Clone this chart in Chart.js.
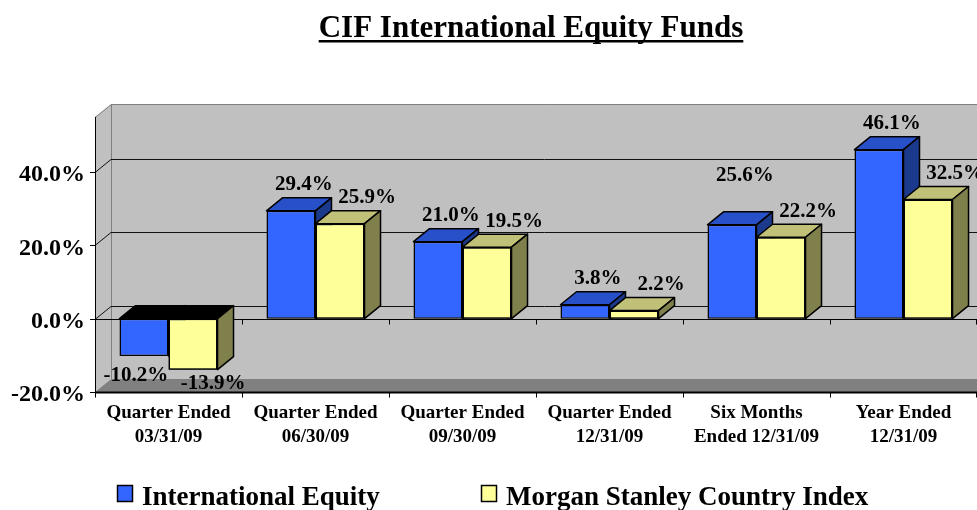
<!DOCTYPE html>
<html>
<head>
<meta charset="utf-8">
<script src="https://cdn.jsdelivr.net/npm/chart.js@4"></script>
<style>
  html, body { margin: 0; padding: 0; background: #fff; }
  canvas { display: block; }
</style>
</head>
<body>
<canvas id="c" width="977" height="510"></canvas>
<script>
// ---- data ----
const chartTitle = "CIF International Equity Funds";
const categories = [
  ["Quarter Ended", "03/31/09"],
  ["Quarter Ended", "06/30/09"],
  ["Quarter Ended", "09/30/09"],
  ["Quarter Ended", "12/31/09"],
  ["Six Months", "Ended 12/31/09"],
  ["Year Ended", "12/31/09"]
];
const seriesNames = ["International Equity", "Morgan Stanley Country Index"];
const internationalEquity = [-10.2, 29.4, 21.0, 3.8, 25.6, 46.1];
const msciCountryIndex = [-13.9, 25.9, 19.5, 2.2, 22.2, 32.5];
const yTickValues = [-20, 0, 20, 40];

// ---- styling ----
const SERIF = '"Liberation Serif", "Times New Roman", serif';
const DX = 16, DY = 13;
const faceColors = [
  { front: '#3366FF', top: '#2850C8', side: '#1B3A8C' },
  { front: '#FFFF99', top: '#C0C078', side: '#80804C' }
];
const fmt = v => v.toFixed(1) + '%';

function drawExtrusion(chart, ctx, di, i) {
  const el = chart.getDatasetMeta(di).data[i];
  const col = faceColors[di];
  const p = el.getProps(['x', 'y', 'base', 'width'], true);
  const l = p.x - p.width / 2, r = p.x + p.width / 2;
  const t = Math.min(p.y, p.base), b = Math.max(p.y, p.base);
  const v = chart.data.datasets[di].data[i];
  ctx.strokeStyle = '#000';
  ctx.lineWidth = 1.5;
  ctx.lineJoin = 'round';
  ctx.fillStyle = v < 0 ? '#000' : col.top;
  ctx.beginPath();
  ctx.moveTo(l, t); ctx.lineTo(l + DX, t - DY);
  ctx.lineTo(r + DX, t - DY); ctx.lineTo(r, t);
  ctx.closePath(); ctx.fill(); ctx.stroke();
  ctx.fillStyle = col.side;
  ctx.beginPath();
  ctx.moveTo(r, t); ctx.lineTo(r + DX, t - DY);
  ctx.lineTo(r + DX, b - DY); ctx.lineTo(r, b);
  ctx.closePath(); ctx.fill(); ctx.stroke();
}

const threeD = {
  id: 'threeD',
  beforeDatasetsDraw(chart) {
    const ctx = chart.ctx;
    const { left, right, top, bottom } = chart.chartArea;
    const ys = chart.scales.y, xs = chart.scales.x;
    ctx.save();
    // back wall
    ctx.fillStyle = '#C0C0C0';
    ctx.fillRect(left + DX, top - DY, right - left + DX, bottom - top);
    // side wall
    ctx.beginPath();
    ctx.moveTo(left, top); ctx.lineTo(left + DX, top - DY);
    ctx.lineTo(left + DX, bottom - DY); ctx.lineTo(left, bottom);
    ctx.closePath(); ctx.fill();
    // floor
    ctx.fillStyle = '#808080';
    ctx.beginPath();
    ctx.moveTo(left, bottom); ctx.lineTo(left + DX, bottom - DY);
    ctx.lineTo(right + DX + 20, bottom - DY); ctx.lineTo(right + 20, bottom);
    ctx.closePath(); ctx.fill();
    // wall edges
    ctx.strokeStyle = '#808080'; ctx.lineWidth = 1;
    ctx.beginPath();
    ctx.moveTo(left, top + 0.5); ctx.lineTo(left + DX + 0.5, top - DY + 0.5);
    ctx.lineTo(right + DX + 20, top - DY + 0.5);
    ctx.moveTo(left + DX + 0.5, top - DY); ctx.lineTo(left + DX + 0.5, bottom - DY);
    ctx.stroke();
    // gridlines
    ctx.strokeStyle = '#111';
    yTickValues.forEach(v => {
      if (v === ys.min) return;
      const yp = Math.round(ys.getPixelForValue(v)) + 0.5;
      ctx.beginPath();
      ctx.moveTo(left, yp); ctx.lineTo(left + DX, yp - DY);
      ctx.lineTo(right + DX + 20, yp - DY);
      ctx.stroke();
    });
    // front axes
    ctx.strokeStyle = '#000';
    const y0 = Math.round(ys.getPixelForValue(0)) + 0.5;
    const yb = Math.round(bottom) + 0.5;
    ctx.beginPath();
    ctx.moveTo(left + 0.5, top); ctx.lineTo(left + 0.5, bottom);
    ctx.moveTo(left, y0); ctx.lineTo(right, y0);
    ctx.stroke();
    ctx.lineWidth = 2;
    ctx.beginPath();
    ctx.moveTo(left, yb); ctx.lineTo(right, yb);
    ctx.stroke();
    ctx.lineWidth = 1;
    // y tick marks
    ctx.beginPath();
    yTickValues.forEach(v => {
      const yp = Math.round(ys.getPixelForValue(v)) + 0.5;
      ctx.moveTo(left - 5, yp); ctx.lineTo(left, yp);
    });
    // x tick marks at category boundaries
    const n = categories.length;
    for (let i = 0; i <= n; i++) {
      let bx;
      if (i === 0) bx = left;
      else if (i === n) bx = right - 1;
      else bx = (xs.getPixelForValue(i - 1) + xs.getPixelForValue(i)) / 2;
      bx = Math.round(bx) + 0.5;
      ctx.moveTo(bx, y0); ctx.lineTo(bx, y0 + 5);
      ctx.moveTo(bx, yb); ctx.lineTo(bx, yb + 5);
    }
    ctx.stroke();
    ctx.restore();
  },
  afterDatasetsDraw(chart) {
    // 3-D faces: blue depth, then the library's yellow bar on top, then yellow depth
    const ctx = chart.ctx;
    ctx.save();
    const yellowMeta = chart.getDatasetMeta(1);
    categories.forEach((c, i) => {
      drawExtrusion(chart, ctx, 0, i);
      yellowMeta.data[i].draw(ctx);
      drawExtrusion(chart, ctx, 1, i);
    });
    ctx.restore();
  },
  afterDraw(chart) {
    const ctx = chart.ctx;
    ctx.save();
    // data labels
    ctx.fillStyle = '#000';
    ctx.font = 'bold 21px ' + SERIF;
    ctx.textAlign = 'center';
    ctx.textBaseline = 'middle';
    const posOff = [5, 19], negOff = [-8, 20];
    chart.data.datasets.forEach((ds, di) => {
      const meta = chart.getDatasetMeta(di);
      meta.data.forEach((el, i) => {
        const p = el.getProps(['x', 'y', 'base', 'width'], true);
        const v = ds.data[i];
        if (v >= 0) {
          const lift = (di === 0 && i === 4) ? 23 : 0;
          ctx.fillText(fmt(v), p.x + DX / 2 + posOff[di], Math.min(p.y, p.base) - DY - 13 - lift);
        } else {
          ctx.fillText(fmt(v), p.x + negOff[di], Math.max(p.y, p.base) + (di === 0 ? 20 : 14));
        }
      });
    });
    // title
    ctx.font = 'bold 31px ' + SERIF;
    ctx.textBaseline = 'alphabetic';
    ctx.textAlign = 'center';
    const tx = 531;
    ctx.fillText(chartTitle, tx, 37);
    const tw = ctx.measureText(chartTitle).width;
    ctx.fillRect(tx - tw / 2, 40, tw, 2.5);
    // legend
    ctx.font = 'bold 27px ' + SERIF;
    ctx.textAlign = 'left';
    const legendX = [117, 481];
    seriesNames.forEach((name, di) => {
      const bx = legendX[di];
      ctx.fillStyle = faceColors[di].front;
      ctx.fillRect(bx, 485, 16, 17);
      ctx.strokeStyle = '#000'; ctx.lineWidth = 1.5;
      ctx.strokeRect(bx + 0.5, 485.5, 15, 16);
      ctx.fillStyle = '#000';
      ctx.fillText(name, bx + 25, 505);
    });
    ctx.restore();
  }
};

new Chart(document.getElementById('c'), {
  type: 'bar',
  data: {
    labels: categories,
    datasets: [
      {
        label: seriesNames[0], data: internationalEquity,
        backgroundColor: faceColors[0].front, borderColor: '#000', borderWidth: 1.5,
        borderSkipped: false, categoryPercentage: 0.667, barPercentage: 1.0
      },
      {
        label: seriesNames[1], data: msciCountryIndex,
        backgroundColor: faceColors[1].front, borderColor: '#000', borderWidth: 1.5,
        borderSkipped: false, categoryPercentage: 0.667, barPercentage: 1.0
      }
    ]
  },
  options: {
    responsive: false,
    animation: false,
    devicePixelRatio: 1,
    layout: { padding: { left: 0, right: 0, top: 117, bottom: 0 } },
    plugins: { legend: { display: false }, title: { display: false }, tooltip: { enabled: false } },
    scales: {
      x: {
        grid: { display: false, drawTicks: false },
        border: { display: false },
        ticks: {
          color: '#000', font: { family: SERIF, size: 19, weight: 'bold', lineHeight: '24px' },
          padding: 9, maxRotation: 0, autoSkip: false
        },
        afterFit: s => { s.height = 118; }
      },
      y: {
        min: -20, max: 55,
        grid: { display: false, drawTicks: false },
        border: { display: false },
        afterBuildTicks: s => { s.ticks = yTickValues.map(v => ({ value: v })); },
        ticks: {
          color: '#000', font: { family: SERIF, size: 24, weight: 'bold' },
          padding: 10, labelOffset: 3, callback: v => fmt(v)
        },
        afterFit: s => { s.width = 95; }
      }
    }
  },
  plugins: [threeD]
});
</script>
</body>
</html>
